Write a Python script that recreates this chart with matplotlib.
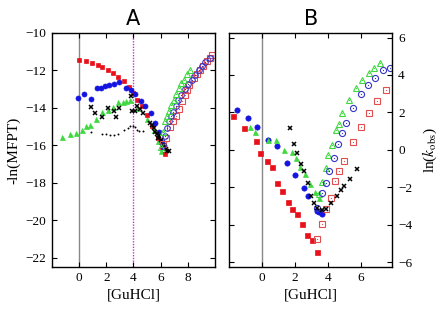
import matplotlib
matplotlib.use("Agg")
import matplotlib.pyplot as plt

plt.rcParams['font.family'] = ['Liberation Serif', 'DejaVu Serif']
plt.rcParams['mathtext.fontset'] = 'stix'

# ---------------- Panel A data ----------------
a_red_fill_x = [0.0, 0.48, 0.97, 1.36, 1.72, 2.13, 2.5, 2.86, 3.3, 3.7, 4.0, 4.27, 4.63, 5.0, 5.4, 5.8, 6.1, 6.3]
a_red_fill_y = [-11.43, -11.5, -11.6, -11.7, -11.84, -11.96, -12.14, -12.35, -12.58, -12.89, -13.2, -13.56, -13.92, -14.4, -15.0, -15.6, -16.1, -16.45]

a_blue_fill_x = [-0.05, 0.39, 0.87, 1.33, 1.62, 1.91, 2.2, 2.55, 2.93, 3.42, 3.83, 4.15, 4.56, 4.85, 5.28, 5.6, 5.9, 6.1, 6.2]
a_blue_fill_y = [-13.48, -13.26, -13.53, -12.96, -12.94, -12.85, -12.78, -12.71, -12.62, -12.94, -13.03, -13.24, -13.65, -13.92, -14.28, -14.8, -15.3, -15.8, -16.1]

a_green_fill_x = [-1.26, -0.7, -0.2, 0.19, 0.49, 0.8, 1.21, 1.65, 2.13, 2.5, 2.88, 3.22, 3.47, 3.75, 4.3, 5.0, 5.5, 5.84, 6.05]
a_green_fill_y = [-15.56, -15.38, -15.36, -15.17, -14.99, -14.9, -14.6, -14.24, -14.1, -13.96, -13.71, -13.67, -13.62, -13.57, -14.0, -14.6, -15.2, -15.8, -16.33]

a_cross_x = [0.85, 1.16, 1.65, 2.13, 2.57, 2.69, 2.93, 3.83, 3.9, 4.15, 4.3, 4.5, 4.7, 5.2, 5.4, 5.5, 5.6, 5.7, 5.8, 5.9, 6.0, 6.1, 6.2, 6.3, 6.4, 6.5, 6.6]
a_cross_y = [-13.96, -14.28, -14.49, -14.01, -14.19, -14.49, -14.01, -13.39, -14.15, -14.15, -13.9, -14.05, -14.3, -14.8, -14.9, -15.1, -15.3, -15.4, -15.6, -15.5, -15.7, -15.9, -16.0, -16.1, -16.2, -16.3, -16.3]

a_dot_x = [0.85, 1.72, 2.0, 2.3, 2.6, 2.9, 3.33, 3.58, 3.76, 3.95, 4.1, 4.24, 4.44, 4.7]
a_dot_y = [-15.3, -15.38, -15.42, -15.44, -15.44, -15.42, -15.17, -15.08, -14.99, -14.96, -15.05, -15.17, -15.26, -15.22]

a_red_open_x = [6.2, 6.4, 6.7, 6.9, 7.1, 7.34, 7.59, 7.78, 7.95, 8.12, 8.44, 8.68, 8.92, 9.15, 9.4, 9.62, 9.82]
a_red_open_y = [-15.95, -15.6, -15.05, -14.7, -14.42, -14.06, -13.66, -13.3, -13.05, -12.76, -12.41, -12.18, -11.96, -11.75, -11.52, -11.32, -11.16]

a_blue_open_x = [6.15, 6.3, 6.45, 6.62, 6.78, 6.93, 7.1, 7.3, 7.5, 7.83, 8.05, 8.3, 8.56, 8.8, 9.04, 9.3, 9.65]
a_blue_open_y = [-16.0, -15.5, -15.1, -14.73, -14.45, -14.22, -13.9, -13.6, -13.3, -13.0, -12.75, -12.5, -12.23, -12.0, -11.79, -11.55, -11.34]

a_green_open_x = [6.05, 6.2, 6.33, 6.48, 6.62, 6.8, 6.98, 7.15, 7.34, 7.5, 7.71, 7.95, 8.19]
a_green_open_y = [-16.1, -15.3, -14.73, -14.45, -14.19, -13.85, -13.57, -13.25, -12.94, -12.7, -12.5, -12.2, -11.96]

# ---------------- Panel B data ----------------
b_red_fill_x = [-1.76, -1.09, -0.4, -0.1, 0.27, 0.57, 0.91, 1.21, 1.54, 1.84, 2.14, 2.42, 2.73, 3.03, 3.3]
b_red_fill_y = [1.8, 1.18, 0.49, -0.19, -0.58, -0.9, -1.75, -2.18, -2.77, -3.16, -3.44, -3.96, -4.54, -4.81, -5.43]

b_blue_fill_x = [-1.52, -0.88, -0.28, 0.33, 0.91, 1.48, 2.02, 2.53, 2.79, 3.3, 3.45, 3.6]
b_blue_fill_y = [2.12, 1.68, 1.23, 0.52, 0.2, -0.69, -1.34, -2.02, -2.46, -3.25, -3.3, -3.42]

b_green_fill_x = [-0.75, -0.45, 0.35, 0.83, 1.33, 1.84, 2.04, 2.28, 2.59, 2.89, 3.19, 3.44]
b_green_fill_y = [1.23, 0.95, 0.55, 0.52, -0.01, -0.13, -0.42, -0.9, -1.31, -1.82, -2.24, -2.55]

b_green_open_x = [3.44, 3.6, 3.86, 4.0, 4.24, 4.45, 4.65, 4.85, 5.27, 5.68, 6.08, 6.47, 6.77, 7.13]
b_green_open_y = [-2.35, -1.7, -0.99, -0.28, 0.25, 1.06, 1.36, 1.95, 2.69, 3.33, 3.72, 4.11, 4.38, 4.65]

b_blue_open_x = [3.3, 3.6, 3.86, 4.06, 4.36, 4.61, 4.85, 5.07, 5.52, 5.98, 6.43, 6.87, 7.3, 7.74]
b_blue_open_y = [-3.09, -2.29, -1.79, -1.13, -0.45, 0.29, 0.88, 1.45, 2.25, 3.01, 3.49, 3.85, 4.29, 4.38]

b_red_open_x = [3.3, 3.6, 3.9, 4.15, 4.41, 4.67, 4.95, 5.48, 5.98, 6.48, 6.99, 7.48]
b_red_open_y = [-4.77, -3.96, -3.17, -2.55, -1.66, -1.13, -0.6, 0.43, 1.23, 1.98, 2.62, 3.19]

b_cross_x = [1.68, 1.94, 2.14, 2.35, 2.55, 2.79, 2.95, 3.15, 3.33, 3.6, 3.9, 4.16, 4.51, 4.75, 4.97, 5.32, 5.72]
b_cross_y = [1.15, 0.31, -0.19, -0.77, -1.11, -1.79, -2.46, -2.82, -3.09, -3.2, -3.16, -2.85, -2.46, -2.14, -1.91, -1.57, -1.02]

xticks_a = [0, 2, 4, 6, 8]
yticks_a = [-22, -20, -18, -16, -14, -12, -10]
xticks_b = [0, 2, 4, 6]
yticks_b = [-6, -4, -2, 0, 2, 4, 6]

RED = '#e8101a'
RED_OPEN = '#e05050'
BLUE = '#1414e0'
BLUE_OPEN = '#3434c8'
GREEN = '#40d840'

fig = plt.figure(figsize=(4.44, 3.10), dpi=100)
axA = fig.add_axes([0.117, 0.139, 0.367, 0.755])
axB = fig.add_axes([0.516, 0.139, 0.368, 0.755])


def filled(ax, x, y, marker, color, ms):
    ax.plot(x, y, linestyle='none', marker=marker, color=color, ms=ms, mec=color, mew=0.5)


def opened(ax, x, y, marker, color, ms):
    ax.plot(x, y, linestyle='none', marker=marker, mfc='none', mec=color, ms=ms, mew=0.8)
    ax.plot(x, y, linestyle='none', marker='o', color=color, ms=0.9, mew=0)


def crosses(ax, x, y):
    ax.plot(x, y, linestyle='none', marker='x', color='black', ms=3.2, mew=1.1)


for ax in (axA, axB):
    ax.axvline(0, color='#888888', lw=1.0, zorder=0)

axA.axvline(4, color='#cc33cc', lw=1.0, ls=(0, (1, 1)), zorder=0)

# Panel A
filled(axA, a_green_fill_x, a_green_fill_y, '^', GREEN, 3.6)
filled(axA, a_red_fill_x, a_red_fill_y, 's', RED, 3.3)
filled(axA, a_blue_fill_x, a_blue_fill_y, 'o', BLUE, 3.6)
axA.plot(a_dot_x, a_dot_y, linestyle='none', marker='o', color='black', ms=1.4, mew=0)
crosses(axA, a_cross_x, a_cross_y)
opened(axA, a_red_open_x, a_red_open_y, 's', RED_OPEN, 4.0)
opened(axA, a_blue_open_x, a_blue_open_y, 'o', BLUE_OPEN, 4.0)
opened(axA, a_green_open_x, a_green_open_y, '^', GREEN, 4.2)

# Panel B
filled(axB, b_red_fill_x, b_red_fill_y, 's', RED, 3.6)
filled(axB, b_blue_fill_x, b_blue_fill_y, 'o', BLUE, 3.8)
filled(axB, b_green_fill_x, b_green_fill_y, '^', GREEN, 3.6)
opened(axB, b_green_open_x, b_green_open_y, '^', GREEN, 4.4)
opened(axB, b_blue_open_x, b_blue_open_y, 'o', BLUE_OPEN, 4.4)
opened(axB, b_red_open_x, b_red_open_y, 's', RED_OPEN, 4.2)
crosses(axB, b_cross_x, b_cross_y)

axA.set_xlim(-2, 10)
axA.set_ylim(-22.5, -10)
axA.set_xticks(xticks_a)
axA.set_yticks(yticks_a)
axB.set_xlim(-2, 7.9)
axB.set_ylim(-6.25, 6.25)
axB.set_xticks(xticks_b)
axB.set_yticks(yticks_b)

for ax in (axA, axB):
    ax.tick_params(direction='in', top=True, right=True, length=3.5, width=0.8,
                   labelsize=9.5, pad=4)
    for s in ax.spines.values():
        s.set_linewidth(1.0)
    ax.set_xlabel('[GuHCl]', fontsize=11, labelpad=3)

axB.tick_params(labelleft=False, labelright=True)

axA.set_ylabel('-ln(MFPT)', fontsize=11, labelpad=4)
axB.yaxis.set_label_position('right')
axB.set_ylabel(r'ln($k_{\rm obs}$)', fontsize=11, labelpad=6)

axA.set_title('A', fontsize=15, family='DejaVu Sans', pad=6)
axB.set_title('B', fontsize=15, family='DejaVu Sans', pad=6)

fig.savefig('out.png', dpi=100)
